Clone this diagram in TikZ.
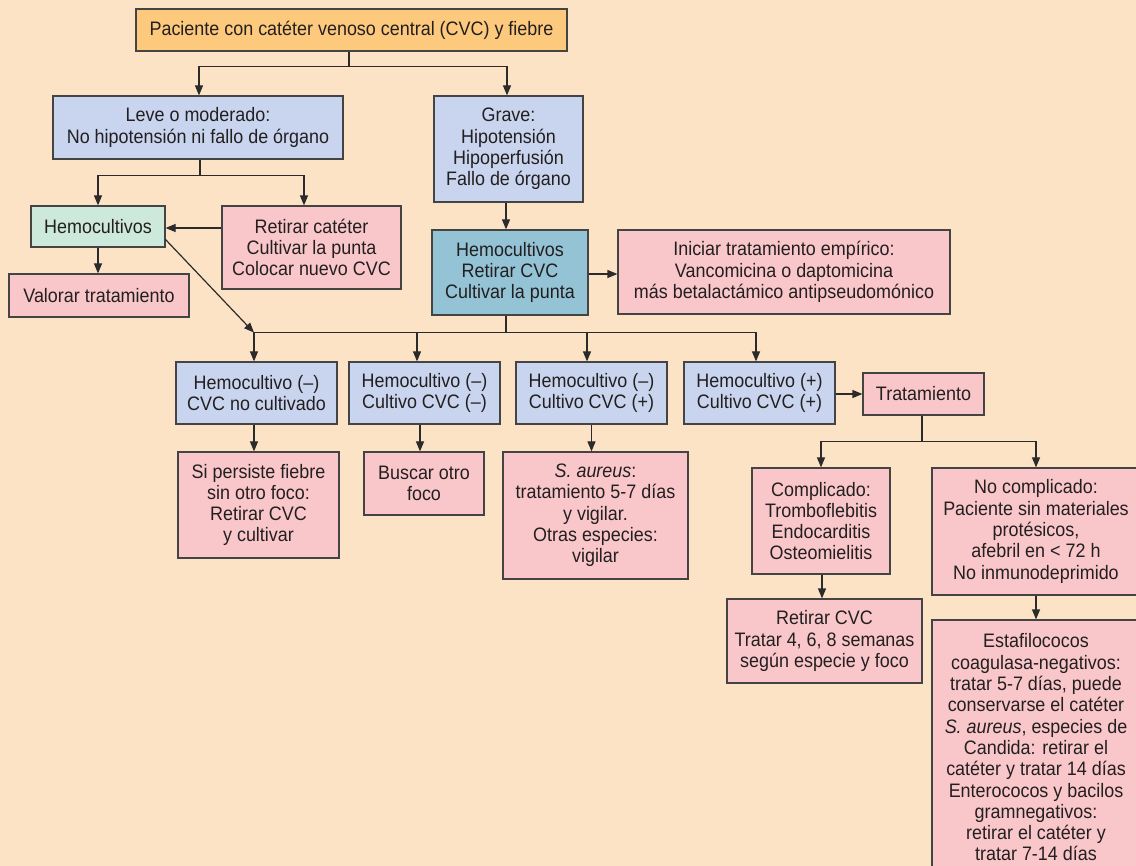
\documentclass[tikz,border=0pt]{standalone}
\usepackage{fontspec}
\setmainfont{Liberation Sans}[FakeStretch=0.92]
\usetikzlibrary{arrows.meta,calc}
\definecolor{bgc}{HTML}{FDE3C6}
\definecolor{orangec}{HTML}{FDC97D}
\definecolor{bluec}{HTML}{C9D5EE}
\definecolor{greenc}{HTML}{CDE9DB}
\definecolor{pinkc}{HTML}{F9C7CA}
\definecolor{tealc}{HTML}{93C3D5}
\definecolor{bdc}{HTML}{444444}
\definecolor{lnc}{HTML}{2B2B2B}
\definecolor{txtc}{HTML}{231F20}
\begin{document}
\begin{tikzpicture}[x=1pt,y=-1pt,
  box/.style={draw=bdc, line width=1.2pt, inner sep=0pt, align=center,
    font=\fontsize{19.5}{21.3}\selectfont, text=txtc},
  bluebox/.style={box, fill=bluec},
  pinkbox/.style={box, fill=pinkc},
  link/.style={line width=1.2pt, draw=lnc},
  arr/.style={link, -{Triangle[length=10pt,width=8pt]}}]
\useasboundingbox (0,0) rectangle (1136,866);
\clip (0,0) rectangle (1136,866);
\fill[bgc] (0,0) rectangle (1136,866);

% nodes
\node[box, fill=orangec, minimum width=431pt, minimum height=42pt] (top) at (351.5,30)
  {Paciente con catéter venoso central (CVC) y fiebre};
\node[bluebox, minimum width=290pt, minimum height=63pt] (leve) at (198,127.5)
  {Leve o moderado:\\No hipotensión ni fallo de órgano};
\node[bluebox, minimum width=149pt, minimum height=106pt] (grave) at (508.5,149)
  {Grave:\\Hipotensión\\Hipoperfusión\\Fallo de órgano};
\node[box, fill=greenc, minimum width=134pt, minimum height=41pt] (hemo) at (98,226.5)
  {Hemocultivos};
\node[pinkbox, minimum width=179pt, minimum height=83pt] (retcat) at (311.5,247.5)
  {Retirar catéter\\Cultivar la punta\\Colocar nuevo CVC};
\node[pinkbox, minimum width=180pt, minimum height=43pt] (valorar) at (99,295.5)
  {Valorar tratamiento};
\node[box, fill=tealc, minimum width=156pt, minimum height=85pt] (teal) at (510,272.5)
  {Hemocultivos\\Retirar CVC\\Cultivar la punta};
\node[pinkbox, minimum width=332pt, minimum height=84pt] (iniciar) at (784,272)
  {Iniciar tratamiento empírico:\\Vancomicina o daptomicina\\más betalactámico antipseudomónico};
\node[bluebox, minimum width=161pt, minimum height=62pt] (hc1) at (256.5,393)
  {Hemocultivo (–)\\CVC no cultivado};
\node[bluebox, minimum width=151pt, minimum height=62pt] (hc2) at (424.5,393)
  {Hemocultivo (–)\\Cultivo CVC (–)};
\node[bluebox, minimum width=151pt, minimum height=62pt] (hc3) at (591.5,393)
  {Hemocultivo (–)\\Cultivo CVC (+)};
\node[bluebox, minimum width=151pt, minimum height=62pt] (hc4) at (759.5,393)
  {Hemocultivo (+)\\Cultivo CVC (+)};
\node[pinkbox, minimum width=121pt, minimum height=42pt] (trat) at (923.5,394)
  {Tratamiento};
\node[pinkbox, minimum width=161pt, minimum height=106pt] (persiste) at (258.5,505)
  {Si persiste fiebre\\sin otro foco:\\Retirar CVC\\y cultivar};
\node[pinkbox, minimum width=120pt, minimum height=63pt] (buscar) at (424,483.5)
  {Buscar otro\\foco};
\node[pinkbox, minimum width=185pt, minimum height=127pt] (saureus) at (595.5,515.5)
  {\textit{S. aureus}:\\tratamiento 5-7 días\\y vigilar.\\Otras especies:\\vigilar};
\node[pinkbox, minimum width=138pt, minimum height=106pt] (compl) at (821,521)
  {Complicado:\\Tromboflebitis\\Endocarditis\\Osteomielitis};
\node[pinkbox, minimum width=208pt, minimum height=127pt] (nocompl) at (1036,531.5)
  {No complicado:\\Paciente sin materiales\\protésicos,\\afebril en < 72 h\\No inmunodeprimido};
\node[pinkbox, minimum width=195pt, minimum height=84pt] (retcvc) at (824.5,641)
  {Retirar CVC\\Tratar 4, 6, 8 semanas\\según especie y foco};
\node[pinkbox, minimum width=208pt, minimum height=255pt] (estaf) at (1036,747.5)
  {Estafilococos\\coagulasa-negativos:\\tratar 5-7 días, puede\\conservarse el catéter\\\textit{S. aureus}, especies de\\Candida: retirar el\\catéter y tratar 14 días\\Enterococos y bacilos\\gramnegativos:\\retirar el catéter y\\tratar 7-14 días};

% connectors
\draw[link] ([xshift=-2.5pt]top.south) -- ++(0,15) coordinate (j1);
\draw[arr] (j1) -| ([xshift=1pt]leve.north);
\draw[arr] (j1) -| ([xshift=-1.5pt]grave.north);

\draw[link] ([xshift=2pt]leve.south) -- ++(0,16) coordinate (j2);
\draw[arr] (j2) -| (hemo.north);
\draw[arr] (j2) -| ([xshift=-7.5pt]retcat.north);

\draw[arr] (retcat.west |- 0,228) -- (hemo.east |- 0,228);
\draw[arr] (hemo.south) -- (hemo.south |- valorar.north);

\draw[arr] ([xshift=-2.5pt]grave.south) -- ([xshift=-4pt]teal.north);
\draw[arr] (teal.east |- 0,274) -- (iniciar.west |- 0,274);

\draw[link] ([xshift=-4pt]teal.south) -- ++(0,17) coordinate (bus);
\coordinate (j3) at ([xshift=-2.5pt]hc1.north |- bus);
\draw[arr] (bus) -| ([xshift=-2.5pt]hc1.north);
\draw[arr] (bus) -| ([xshift=-7.5pt]hc2.north);
\draw[arr] (bus) -| ([xshift=-4.5pt]hc3.north);
\draw[arr] (bus) -| ([xshift=-3.5pt]hc4.north);
\draw[arr] ([yshift=8pt]hemo.south east) -- (j3);

\draw[arr] ([xshift=-2.5pt]hc1.south) -- ([xshift=-2.5pt]hc1.south |- persiste.north);
\draw[arr] ([xshift=-4.5pt]hc2.south) -- ([xshift=-4.5pt]hc2.south |- buscar.north);
\draw[arr] (hc3.south) -- (hc3.south |- saureus.north);
\draw[arr] (hc4.east |- trat.west) -- (trat.west);

\draw[link] ([xshift=-1.5pt]trat.south) -- ++(0,26) coordinate (j4);
\draw[arr] (j4) -| (compl.north);
\draw[arr] (j4) -| (nocompl.north);
\draw[arr] ([xshift=1pt]compl.south) -- ([xshift=1pt]compl.south |- retcvc.north);
\draw[arr] (nocompl.south) -- (estaf.north);
\end{tikzpicture}
\end{document}
